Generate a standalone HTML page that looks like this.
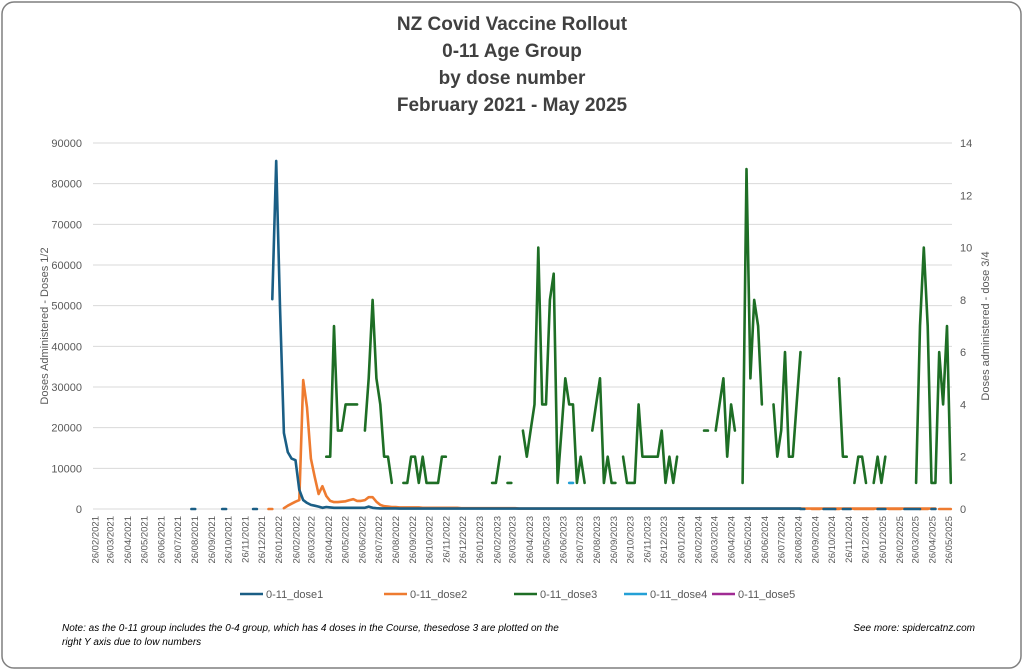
<!DOCTYPE html>
<html><head><meta charset="utf-8">
<style>
body{margin:0;background:#fff;}
svg{display:block;font-family:"Liberation Sans",sans-serif;}
</style></head>
<body>
<svg id="chart" width="1024" height="671" viewBox="0 0 1024 671">
<rect x="2" y="2" width="1019" height="666" rx="12" fill="#fff" stroke="#7f7f7f" stroke-width="1.5"/>
<g font-weight="bold" font-size="19" fill="#404040" text-anchor="middle">
<text x="512" y="30">NZ Covid Vaccine Rollout</text>
<text x="512" y="57">0-11 Age Group</text>
<text x="512" y="84">by dose number</text>
<text x="512" y="111">February 2021 - May 2025</text>
</g>
<g id="grid"></g>
<g id="yleft" font-size="11" fill="#595959" text-anchor="end"></g>
<g id="yright" font-size="11" fill="#595959"></g>
<g id="xaxis" font-size="9.5" fill="#595959"></g>
<text transform="translate(48,326) rotate(-90)" text-anchor="middle" font-size="11" fill="#595959">Doses Administered - Doses 1/2</text>
<text transform="translate(989,326) rotate(-90)" text-anchor="middle" font-size="11" fill="#595959">Doses administered - dose 3/4</text>
<g id="series"></g>
<g id="legend" font-size="11" fill="#595959"></g>
<text x="62" y="631" font-size="10" font-style="italic" fill="#000">Note: as the 0-11 group includes the 0-4 group, which has 4 doses in the Course, thesedose 3 are plotted on the</text>
<text x="62" y="645" font-size="10" font-style="italic" fill="#000">right Y axis due to low numbers</text>
<text x="975" y="631" font-size="10" font-style="italic" fill="#000" text-anchor="end">See more: spidercatnz.com</text>
</svg>
<script>
// week index 0 = 26/02/2021; segments: [startWeek, values]
const leftTicks=[0,10000,20000,30000,40000,50000,60000,70000,80000,90000];
const rightTicks=[0,2,4,6,8,10,12,14];
const monthCount=52;
const dose1=[[25,[0,0]],[33,[0,0]],[41,[0,0]],
 [46,[51600,85600,49700,18700,14000,12400,12000,4700,2200,1500,1000,800,600,300,500,400,300,300,300,300,300,300,300,300,300,600,300,200,150,150,150,150,150,100,100,100,100,100,100,100,100,100,100,100,100,100,100,100,100,100,100,100,100,100,100,100,100,100,100,100,100,100,100,100,100,100,100,100,100,100,100,100,100,100,100,100,100,100,100,100,100,100,100,100,100,100,100,100,100,100,100,100,100,100,100,100,100,100,100,100,100,100,100,100,100,100,100,100,100,100,100,100,100,100,100,100,100,100,100,100,100,100,100,100,100,100,100,100,100,100,100,100,100,100,100,100,100,100]],
 [183,[0,0]],[189,[0,0,0,0]],[194,[0,0,0]],[203,[0,0,0]],[210,[0,0,0,0,0]],[217,[0,0]]];
const dose2=[[45,[0,0]],
 [49,[200,800,1300,1800,2200,31700,25000,12400,7900,3700,5600,3200,2000,1700,1700,1800,1900,2200,2400,2000,2000,2200,2900,2900,1800,1000,700,600,500,500,400,400,400,400,400,400,300,300,300,300,300,300,300,300,300,300,200,200,200,200,200,200,200,200,200,200,200,200,200,200,200,100,100,100,100,100,100,100,100,100,100,100,100,100,100,100,100,100,100,100,100,100,100,100,100,100,100,100,100,100,100,100,100,100,100,100,100,100,100,100,100,100,100,100,100,100,100,100,100,100,100,100,100,100,100,100,100,100,100,100,100,100,100,100,100,100,100,100,100,100,100,100,100,100,100,100,100,100,100,100,100,100,100,100,100,100,100,100,100,100,100,100,100,100,100,100,100,100,100,100,100,100,100,100,100,100,100,100,100,100]],
 [186,[0,0,0]],[192,[0,0]],[197,[0,0,0,0,0,0]],[206,[0,0,0,0]],[214,[0,0,0]],[219,[0,0,0,0]]];
const dose3=[[60,[2,2,7,3,3,4,4,4,4]],[70,[3,5,8,5,4,2,2,1]],[80,[1,1,2,2,1,2,1,1,1,1,2,2]],
 [103,[1,1,2]],[107,[1,1]],[111,[3,2,3,4,10,4,4,8,9,1,3,5,4,4,1,2,1]],
 [129,[3,4,5,1,2,1,1]],[137,[2,1,1,1,4,2,2,2,2,2,3,1,2,1,2]],[158,[3,3]],
 [161,[3,4,5,2,4,3]],[168,[1,13,5,8,7,4]],[176,[4,2,3,6,2,2,4,6]],[193,[5,2,2]],
 [197,[1,2,2,1]],[202,[1,2,1,2]],[213,[1,7,10,7,1,1,6,4,7,1]]];
const dose4=[[123,[1,1]]];
const dose5=[];

const X0=95, WK=3.855, PL=93, PR=952, Y0=509, YT=143;
const xw=w=>X0+w*WK;
const yl=v=>Y0-(v/90000)*(Y0-YT);
const yr=v=>Y0-(v/14)*(Y0-YT);
const NS="http://www.w3.org/2000/svg";
function mk(tag,attrs,parent){const e=document.createElementNS(NS,tag);for(const k in attrs)e.setAttribute(k,attrs[k]);parent.appendChild(e);return e;}

const grid=document.getElementById('grid');
leftTicks.forEach(t=>{
 const l=mk('line',{x1:PL,x2:PR,y1:yl(t),y2:yl(t),stroke:'#d9d9d9','stroke-width':1},grid);
 
 
 const tx=mk('text',{x:82,y:yl(t)+4},document.getElementById('yleft'));
 tx.textContent=t;
 
 
});
rightTicks.forEach(t=>{
 const tx=mk('text',{x:960,y:yr(t)+4},document.getElementById('yright'));
 tx.textContent=t;
 
 
});
const xa=document.getElementById('xaxis');
const start=Date.UTC(2021,1,26);
for(let m=0;m<monthCount;m++){
 const d=Date.UTC(2021,1+m,26);
 const w=(d-start)/86400000/7;
 const dt=new Date(d);
 const lab='26/'+String(dt.getUTCMonth()+1).padStart(2,'0')+'/'+dt.getUTCFullYear();
 const x=xw(w);
 const tx=mk('text',{transform:`translate(${x+3.3},516) rotate(-90)`,'text-anchor':'end'},xa);
 tx.textContent=lab;
 
 
}
const ser=document.getElementById('series');
function draw(segs,scale,color,name){
 segs.forEach(([s,vals])=>{
  const pts=vals.map((v,i)=>xw(s+i).toFixed(1)+','+scale(v).toFixed(1)).join(' ');
  const p=mk('polyline',{points:pts,fill:'none',stroke:color,'stroke-width':2.6,'stroke-linejoin':'round','stroke-linecap':'round'},ser);
  
  
 });
}
draw(dose2,yl,'#ee7b30','dose2-line');
draw(dose1,yl,'#1a5e85','dose1-line');
draw(dose3,yr,'#1e6e25','dose3-line');
draw(dose4,yr,'#24a0d6','dose4-line');
draw(dose5,yr,'#a02b93','dose5-line');

const leg=[['0-11_dose1','#1a5e85',240],['0-11_dose2','#ee7b30',384],['0-11_dose3','#1e6e25',514],['0-11_dose4','#24a0d6',624],['0-11_dose5','#a02b93',712]];
const lg=document.getElementById('legend');
leg.forEach(([n,c,x])=>{
 const g=mk('g',{},lg);
 
 
 mk('line',{x1:x,x2:x+23,y1:594,y2:594,stroke:c,'stroke-width':2.6},g);
 const t=mk('text',{x:x+26,y:598},g);
 t.textContent=n;
});
</script>
</body></html>
